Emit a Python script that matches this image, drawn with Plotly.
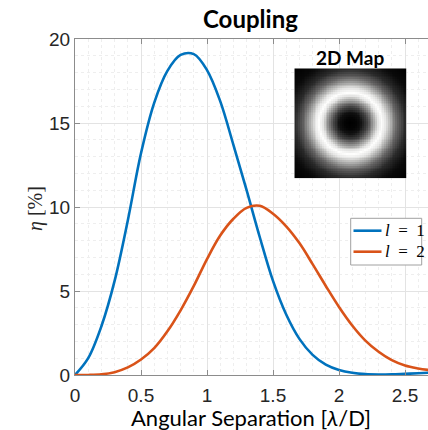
import numpy as np
import plotly.graph_objects as go

# ---------------- data ----------------
x_l1 = [0, 0.1, 0.2, 0.3, 0.4, 0.5, 0.6, 0.7, 0.8, 0.9, 1.0, 1.1, 1.2, 1.3, 1.4,
        1.5, 1.6, 1.7, 1.8, 1.9, 2.0, 2.1, 2.2, 2.3, 2.4, 2.5, 2.6, 2.7]
eta_l1 = [0, 1.0, 2.9, 5.6, 9.2, 13.2, 16.2, 18.1, 19.05, 19.1, 18.15, 16.3, 13.7, 11.0, 8.2,
          5.6, 3.6, 2.15, 1.2, 0.62, 0.3, 0.13, 0.05, 0.03, 0.04, 0.07, 0.1, 0.14]

x_l2 = [0, 0.1, 0.2, 0.3, 0.4, 0.5, 0.6, 0.7, 0.8, 0.9, 1.0, 1.1, 1.2, 1.3, 1.4,
        1.5, 1.6, 1.7, 1.8, 1.9, 2.0, 2.1, 2.2, 2.3, 2.4, 2.5, 2.6, 2.7]
eta_l2 = [0, 0.003, 0.04, 0.17, 0.45, 0.92, 1.6, 2.6, 3.85, 5.3, 6.9, 8.3, 9.3, 9.95, 10.07,
          9.6, 8.85, 7.85, 6.6, 5.3, 4.05, 2.95, 2.05, 1.38, 0.88, 0.56, 0.39, 0.28]

series_names = ["<i>l</i> = 1", "<i>l</i> = 2"]
x_ticks = [0, 0.5, 1, 1.5, 2, 2.5]
x_tick_text = ["0", "0.5", "1", "1.5", "2", "2.5"]
y_ticks = [0, 5, 10, 15, 20]

# radial brightness profile of the inset "2D Map" (fraction of half width -> gray level)
map_r = [0, 0.1, 0.2, 0.3, 0.4, 0.5, 0.57, 0.65, 0.75, 0.85, 1.0, 1.2, 1.42]
map_v = [0, 0.02, 0.1, 0.3, 0.62, 0.92, 1.0, 0.92, 0.7, 0.45, 0.2, 0.05, 0.0]

# ---------------- figure ----------------
W, H = 428, 430
L, R, T, B = 75, 0, 39, 55
PW, PH = W - L - R, H - T - B
BLUE = "#0072BD"
ORANGE = "#D95319"
AX = "#8c8c8c"
TXT = "#262626"
colors = [BLUE, ORANGE]


def px_x(p):
    return (p - L) / PW


def px_y(p):
    return (H - B - p) / PH


fig = go.Figure()
fig.add_trace(go.Scatter(x=x_l1, y=eta_l1, mode="lines", name=series_names[0],
                         line=dict(color=BLUE, width=2.6, shape="spline", smoothing=1.0)))
fig.add_trace(go.Scatter(x=x_l2, y=eta_l2, mode="lines", name=series_names[1],
                         line=dict(color=ORANGE, width=2.6, shape="spline", smoothing=1.0)))

# inset map
n = 61
u = np.linspace(-1, 1, n)
uu, vv = np.meshgrid(u, u)
rr = np.sqrt(uu ** 2 + vv ** 2)
zz = np.interp(rr, map_r, map_v)
fig.add_trace(go.Heatmap(z=zz, x=u, y=u, colorscale="gray", zmin=0, zmax=1,
                         showscale=False, xaxis="x2", yaxis="y2", hoverinfo="skip"))

xmax = PW / 132.0

fig.update_layout(
    width=W, height=H,
    margin=dict(l=L, r=R, t=T, b=B, autoexpand=False),
    paper_bgcolor="white", plot_bgcolor="white",
    showlegend=False,
    xaxis=dict(range=[0, xmax], tickvals=x_ticks, ticktext=x_tick_text,
               showline=True, linecolor=AX, linewidth=1, mirror="ticks",
               ticks="inside", ticklen=5, tickcolor=AX, ticklabelstandoff=3,
               showgrid=True, gridcolor="#e3e3e3", gridwidth=1,
               minor=dict(dtick=0.1, showgrid=True, gridcolor="#eeeeee", griddash="dot",
                          ticks=""),
               tickfont=dict(family="Liberation Sans", size=19, color=TXT),
               zeroline=False, fixedrange=True, automargin=False),
    yaxis=dict(range=[0, 20], tickvals=y_ticks,
               showline=True, linecolor=AX, linewidth=1, mirror=False,
               ticks="inside", ticklen=5, tickcolor=AX,
               showgrid=True, gridcolor="#e3e3e3", gridwidth=1,
               minor=dict(dtick=1, showgrid=True, gridcolor="#eeeeee", griddash="dot",
                          ticks=""),
               tickfont=dict(family="Liberation Sans", size=19, color=TXT),
               zeroline=False, fixedrange=True, automargin=False),
    xaxis2=dict(domain=[px_x(294.3), px_x(406.7)],
                anchor="y2", visible=False, range=[-1.017, 1.017]),
    yaxis2=dict(domain=[px_y(178.3), px_y(68.3)],
                anchor="x2", visible=False, range=[-1.017, 1.017]),
)

# legend box (drawn manually to match the compact MATLAB legend)
fig.add_shape(type="rect", xref="paper", yref="paper",
              x0=px_x(350.7), x1=px_x(421.7), y0=px_y(265), y1=px_y(218.3),
              line=dict(color="#a0a0a0", width=1), fillcolor="white", layer="above")
for i, (name, c) in enumerate(zip(series_names, colors)):
    yy = 230.7 + 21 * i
    fig.add_shape(type="line", xref="paper", yref="paper",
                  x0=px_x(353.5), x1=px_x(381.5), y0=px_y(yy), y1=px_y(yy),
                  line=dict(color=c, width=2.6), layer="above")
    fig.add_annotation(text=name.replace(" = ", "\u2002=\u2002"), x=px_x(383), y=px_y(yy),
                       xref="paper", yref="paper", showarrow=False,
                       xanchor="left", yanchor="middle",
                       font=dict(family="Liberation Serif", size=17, color="black"))

fig.add_annotation(text="<b>Coupling</b>", x=px_x(250), y=px_y(19), xref="paper", yref="paper",
                   showarrow=False, xanchor="center", yanchor="middle",
                   font=dict(family="Lato", size=24, color="black"))
fig.add_annotation(text="<b>2D Map</b>", x=px_x(350.4), y=px_y(57), xref="paper", yref="paper",
                   showarrow=False, xanchor="center", yanchor="middle",
                   font=dict(family="Lato", size=19, color="black"))
fig.add_annotation(text="Angular Separation [<i>λ</i>/D]", x=px_x(251), y=px_y(417),
                   xref="paper", yref="paper", showarrow=False,
                   xanchor="center", yanchor="middle",
                   font=dict(family="Lato", size=22, color="black"))
fig.add_annotation(text="<i>η</i> [%]", x=px_x(35), y=px_y(209),
                   xref="paper", yref="paper", showarrow=False, textangle=-90,
                   xanchor="center", yanchor="middle",
                   font=dict(family="Liberation Serif", size=20, color=TXT))

fig.write_html("out.html", post_script="document.body.style.margin='0';",
               config={"displayModeBar": False})
